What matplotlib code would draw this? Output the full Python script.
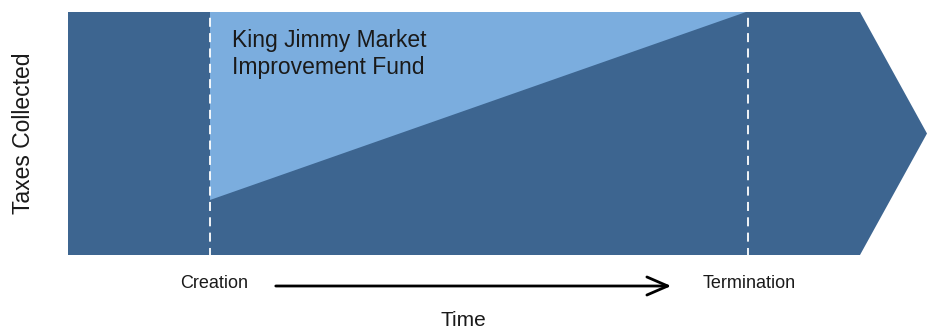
import matplotlib
matplotlib.use("Agg")
import matplotlib.pyplot as plt
from matplotlib.patches import Polygon

plt.rcParams['font.family'] = ['Liberation Sans', 'DejaVu Sans']

# Data (time axis units, tax axis units)
time_start = 0
time_creation = 142
time_termination = 678
time_end = 792
time_tip = 859
taxes_max = 243
fund_base_at_creation = 55
fund_base_at_termination = 243
event_labels = ["Creation", "Termination"]
fund_label = "King Jimmy Market\nImprovement Fund"
x_title = "Time"
y_title = "Taxes Collected"

DARK = "#3d6590"
LIGHT = "#7badde"

W, H = 936, 330
fig = plt.figure(figsize=(W / 100, H / 100), dpi=100)
fig.patch.set_facecolor("white")
ax = fig.add_axes([68 / W, 75 / H, 859 / W, 243 / H])
ax.set_xlim(time_start, time_tip)
ax.set_ylim(0, taxes_max)
ax.axis("off")

dark = Polygon([(time_start, 0), (time_end, 0), (time_tip, taxes_max / 2),
                (time_end, taxes_max), (time_start, taxes_max)],
               closed=True, facecolor=DARK, edgecolor="none")
ax.add_patch(dark)
light = Polygon([(time_creation, fund_base_at_creation),
                 (time_termination, fund_base_at_termination),
                 (time_creation, taxes_max)],
                closed=True, facecolor=LIGHT, edgecolor="none")
ax.add_patch(light)

for tx in (time_creation, time_termination + 2):
    ax.plot([tx, tx], [-2, taxes_max], color="white", lw=1.3,
            dashes=(5, 3.5), clip_on=False)

ax.text(time_creation + 22, taxes_max - 17, fund_label, fontsize=16.5,
        color="#1a1a1a", ha="left", va="top", linespacing=1.22)

for tx, lab in zip((time_creation + 4, time_termination + 3), event_labels):
    ax.text(tx, -29, lab, fontsize=13, color="#1a1a1a",
            ha="center", va="center", clip_on=False)

ax.annotate("", xy=(time_creation + 464, -31), xytext=(time_creation + 63, -31),
            arrowprops=dict(arrowstyle="->,head_length=1.5,head_width=0.65",
                            lw=2.0, color="black"),
            annotation_clip=False)

fig.text(463 / W, 1 - 320 / H, x_title, fontsize=15, color="#1a1a1a",
         ha="center", va="center")
fig.text(24 / W, 1 - 133 / H, y_title, fontsize=16.5, color="#1a1a1a",
         ha="center", va="center", rotation=90)

fig.savefig("out.png", dpi=100, facecolor="white")
